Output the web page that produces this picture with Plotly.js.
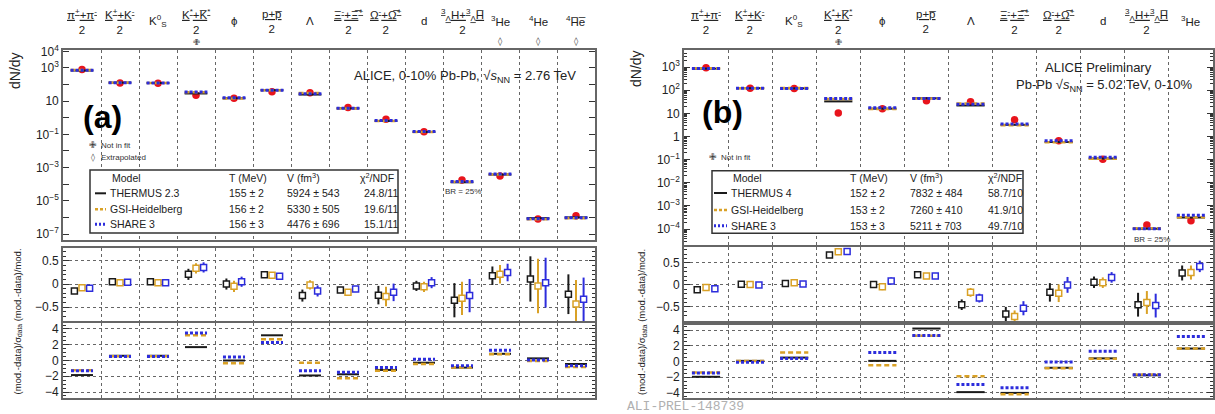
<!DOCTYPE html>
<html><head><meta charset="utf-8">
<script src="https://cdn.plot.ly/plotly-3.0.1.min.js"></script>
<style>html,body{margin:0;padding:0;background:#fff}#chart{width:1215px;height:414px}</style>
</head><body><div id="chart"></div>
<script>
// ---------------- Panel (a): Pb-Pb 2.76 TeV ----------------
const labelsA = [
  "<u>π<sup>+</sup>+π<sup>-</sup></u><br>2",
  "<u>K<sup>+</sup>+K<sup>-</sup></u><br>2",
  "K<sup>0</sup><sub>S</sub>",
  "<u>K<sup>*</sup>+K̅<sup>*</sup></u><br>2",
  "ϕ",
  "<u>p+p̅</u><br>2",
  "Λ",
  "<u>Ξ<sup>-</sup>+Ξ̅<sup>+</sup></u><br>2",
  "<u>Ω<sup>-</sup>+Ω̅<sup>+</sup></u><br>2",
  "d",
  "<u><sup>3</sup><sub>Λ</sub>H+<sup>3</sup><sub>Λ</sub>H̅</u><br>2",
  "<sup>3</sup>He",
  "<sup>4</sup>He",
  "<sup>4</sup>H̅e̅"
];
const notInFitA = [3];
const extrapolatedA = [11, 12, 13];

const dataA    = [800, 125, 118, 23, 15, 37, 32, 4.2, 0.81, 0.145, 1.8e-4, 3.1e-4, 8e-7, 1.25e-6];
const thermA   = [700, 130, 124, 29, 15, 46, 25, 3.7, 0.64, 0.14, 1.3e-4, 3.8e-4, 9e-7, 1.0e-6];
const gsiA     = [740, 128, 122, 34, 14.3, 46, 31, 3.6, 0.64, 0.137, 1.4e-4, 3.9e-4, 7.7e-7, 8.8e-7];
const shareA   = [735, 129, 122, 36, 15.8, 45, 28, 3.8, 0.69, 0.15, 1.45e-4, 4.1e-4, 8.2e-7, 9.4e-7];

const ratioThermA = [-0.15, 0.05, 0.05, 0.21, 0.0, 0.2, -0.25, -0.13, -0.24, -0.04, -0.35, 0.18, 0.11, -0.22];
const errThermA   = [0.04, 0.03, 0.03, 0.12, 0.12, 0.02, 0.13, 0.04, 0.2, 0.11, 0.37, 0.2, 0.49, 0.43];
const ratioGsiA   = [-0.08, 0.03, 0.03, 0.34, -0.05, 0.19, -0.02, -0.18, -0.27, -0.06, -0.31, 0.21, -0.04, -0.43];
const errGsiA     = [0.04, 0.03, 0.03, 0.11, 0.12, 0.02, 0.1, 0.04, 0.21, 0.11, 0.36, 0.2, 0.59, 0.52];
const ratioShareA = [-0.09, 0.04, 0.03, 0.36, 0.05, 0.17, -0.15, -0.11, -0.18, 0.03, -0.25, 0.25, 0.03, -0.33];
const errShareA   = [0.04, 0.03, 0.03, 0.11, 0.11, 0.02, 0.12, 0.04, 0.19, 0.12, 0.36, 0.19, 0.54, 0.47];

const sigThermA = [-1.85, 0.6, 0.6, 1.7, 0.0, 3.2, -1.9, -1.75, -1.2, -0.28, -0.9, 0.85, 0.27, -0.44];
const sigGsiA   = [-1.25, 0.55, 0.55, 3.2, -0.35, 2.7, -0.28, -2.26, -1.3, -0.45, -0.9, 0.8, -0.06, -0.82];
const sigShareA = [-1.3, 0.5, 0.5, 3.5, 0.45, 2.3, -1.3, -1.5, -0.9, 0.15, -0.66, 1.3, 0.06, -0.66];

const legendA = [
  ["THERMUS 2.3", "155 ± 2", "5924 ± 543", "24.8/11"],
  ["GSI-Heidelberg", "156 ± 2", "5330 ± 505", "19.6/11"],
  ["SHARE 3", "156 ± 3", "4476 ± 696", "15.1/11"]
];

// ---------------- Panel (b): Pb-Pb 5.02 TeV ----------------
const labelsB = [
  "<u>π<sup>+</sup>+π<sup>-</sup></u><br>2",
  "<u>K<sup>+</sup>+K<sup>-</sup></u><br>2",
  "K<sup>0</sup><sub>S</sub>",
  "<u>K<sup>*</sup>+K̅<sup>*</sup></u><br>2",
  "ϕ",
  "<u>p+p̅</u><br>2",
  "Λ",
  "<u>Ξ<sup>-</sup>+Ξ̅<sup>+</sup></u><br>2",
  "<u>Ω<sup>-</sup>+Ω̅<sup>+</sup></u><br>2",
  "d",
  "<u><sup>3</sup><sub>Λ</sub>H+<sup>3</sup><sub>Λ</sub>H̅</u><br>2",
  "<sup>3</sup>He"
];
const notInFitB = [3];

const dataB  = [950, 122, 118, 10.5, 16, 35, 32, 5.3, 0.66, 0.105, 1.5e-4, 2.3e-4];
const thermB = [860, 123, 121, 33, 16, 45, 22, 3.2, 0.58, 0.112, 1.03e-4, 3.15e-4];
const gsiB   = [900, 123, 124, 42, 15.4, 44, 27, 3.1, 0.57, 0.11, 1.07e-4, 3.2e-4];
const shareB = [880, 122, 120, 44, 17.6, 44, 24.6, 3.5, 0.66, 0.126, 1.02e-4, 3.95e-4];

const ratioThermB = [-0.11, 0.015, 0.03, 0.68, 0.01, 0.23, -0.45, -0.66, -0.17, 0.06, -0.45, 0.27];
const errThermB   = [0, 0, 0, 0, 0.05, 0, 0.12, 0.16, 0.21, 0.13, 0.27, 0.17];
const ratioGsiB   = [-0.06, 0.01, 0.05, 0.75, -0.04, 0.2, -0.17, -0.72, -0.19, 0.05, -0.4, 0.28];
const errGsiB     = [0, 0, 0, 0, 0.08, 0, 0.1, 0.14, 0.2, 0.12, 0.26, 0.16];
const ratioShareB = [-0.09, 0.0, 0.02, 0.76, 0.09, 0.2, -0.3, -0.53, 0.0, 0.17, -0.47, 0.42];
const errShareB   = [0, 0, 0, 0, 0.08, 0, 0.1, 0.16, 0.18, 0.12, 0.27, 0.13];

const sigThermB = [-1.95, 0.08, 0.5, null, 0.08, 4.2, -3.9, -4.0, -0.8, 0.4, -1.75, 1.65];
const sigGsiB   = [-1.4, 0.05, 1.15, null, -0.47, 3.27, -1.87, -4.17, -0.85, 0.35, -1.65, 1.65];
const sigShareB = [-1.45, -0.1, 0.38, null, 1.15, 3.3, -2.94, -3.36, -0.05, 1.31, -1.7, 3.2];

const legendB = [
  ["THERMUS 4", "152 ± 2", "7832 ± 484", "58.7/10"],
  ["GSI-Heidelberg", "153 ± 2", "7260 ± 410", "41.9/10"],
  ["SHARE 3", "153 ± 3", "5211 ± 703", "49.7/10"]
];

// ---------------- styling ----------------
const W = 1215, H = 414;
const px = x => x / W;
const py = y => 1 - y / H;
const FONT = "Liberation Sans, Arial, sans-serif";
const CK = "#1a1a1a", CO = "#d9a126", CB = "#2c2cdc", CR = "#e8141c";
const modelColors = [CK, CO, CB];
const modelDash = ["solid", "5px,3px", "3px,2px"];
const modelWidth = [2, 2.5, 3];

function segs(vals, half) {
  const x = [], y = [];
  vals.forEach((v, i) => { if (v === null) return; x.push(i - half, i + half, null); y.push(v, v, null); });
  return { x, y };
}
function lineTrace(vals, xa, ya, m, half) {
  const s = segs(vals, half);
  return { type: "scatter", mode: "lines", x: s.x, y: s.y, xaxis: xa, yaxis: ya,
    line: { color: modelColors[m], dash: modelDash[m], width: modelWidth[m] },
    hoverinfo: "skip", showlegend: false };
}
function dataTrace(vals, xa, ya) {
  return { type: "scatter", mode: "markers", x: vals.map((v, i) => i), y: vals, xaxis: xa, yaxis: ya,
    marker: { color: CR, size: 7.5, symbol: "circle" }, showlegend: false };
}
function ratioTrace(vals, errs, off, xa, ya, m) {
  const c = modelColors[m];
  return { type: "scatter", mode: "markers", x: vals.map((v, i) => i + off), y: vals, xaxis: xa, yaxis: ya,
    error_y: { type: "data", array: errs, visible: true, color: c, thickness: 2, width: 0 },
    marker: { symbol: "square", size: 6, color: "#ffffff", line: { width: 1.5, color: c } }, showlegend: false };
}

const traces = [];
// panel a
traces.push(dataTrace(dataA, "x", "y"));
[thermA, gsiA, shareA].forEach((v, m) => traces.push(lineTrace(v, "x", "y", m, 0.3)));
[[ratioThermA, errThermA], [ratioGsiA, errGsiA], [ratioShareA, errShareA]].forEach((p, m) =>
  traces.push(ratioTrace(p[0], p[1], (m - 1) * 0.2, "x2", "y2", m)));
[sigThermA, sigGsiA, sigShareA].forEach((v, m) => traces.push(lineTrace(v, "x3", "y3", m, 0.29)));
// panel b
traces.push(dataTrace(dataB, "x4", "y4"));
[thermB, gsiB, shareB].forEach((v, m) => traces.push(lineTrace(v, "x4", "y4", m, 0.32)));
[[ratioThermB, errThermB], [ratioGsiB, errGsiB], [ratioShareB, errShareB]].forEach((p, m) =>
  traces.push(ratioTrace(p[0], p[1], (m - 1) * 0.2, "x5", "y5", m)));
[sigThermB, sigGsiB, sigShareB].forEach((v, m) => traces.push(lineTrace(v, "x6", "y6", m, 0.32)));

// axes
function xAxis(n, dom, anchor) {
  const b = []; for (let i = 0; i < n - 1; i++) b.push(i + 0.5);
  return { domain: dom, anchor: anchor, range: [-0.5, n - 0.5], tickvals: b, showticklabels: false,
    ticks: "", showgrid: true, griddash: "dot", gridcolor: "#666", gridwidth: 1, zeroline: false,
    showline: true, mirror: true, linecolor: "#666", linewidth: 1.8, fixedrange: true };
}
function baseY(dom, anchor) {
  return { domain: dom, anchor: anchor, ticks: "inside", ticklen: 6, tickcolor: "#333", tickwidth: 1,
    showline: true, mirror: "allticks", linecolor: "#666", linewidth: 1.8, zeroline: false,
    tickfont: { size: 12, color: "#222", family: FONT }, fixedrange: true };
}
const supE = e => e === 1 ? "10" : (e === 0 ? "1" : "10<sup>" + (e < 0 ? "−" + (-e) : e) + "</sup>");

const decA = []; for (let e = -7; e <= 4; e++) decA.push(e);
const yTopA = Object.assign(baseY([py(240), py(50)], "x"), {
  type: "log", range: [-7.36, 4.08], tickvals: decA.map(e => Math.pow(10, e)),
  ticktext: decA.map(e => ([4, 3, 1, -1, -3, -5, -7].includes(e) ? supE(e) : "")), showgrid: false });
const decB = []; for (let e = -4; e <= 3; e++) decB.push(e);
const yTopB = Object.assign(baseY([py(245), py(50)], "x4"), {
  type: "log", range: [-4.69, 3.74], tickvals: decB.map(e => Math.pow(10, e)),
  ticktext: decB.map(supE), showgrid: false,
  minor: { ticks: "inside", ticklen: 3, tickcolor: "#333", dtick: "D1" } });

function yMid(dom, anchor, range) {
  return Object.assign(baseY(dom, anchor), { range: range, tickvals: [-0.5, 0, 0.5], ticktext: ["−0.5", "0", "0.5"],
    showgrid: true, griddash: "dot", gridcolor: "#666", gridwidth: 1,
    minor: { ticks: "inside", ticklen: 3, tickcolor: "#333", dtick: 0.1, showgrid: false } });
}
function yBot(dom, anchor, range) {
  return Object.assign(baseY(dom, anchor), { range: range, tickvals: [-4, -2, 0, 2, 4], ticktext: ["−4", "−2", "0", "2", "4"],
    showgrid: true, griddash: "dot", gridcolor: "#666", gridwidth: 1,
    minor: { ticks: "inside", ticklen: 3, tickcolor: "#333", dtick: 0.5, showgrid: false } });
}

const domXA = [px(63), px(595)], domXB = [px(684), px(1213)];
const layout = {
  width: W, height: H, margin: { l: 0, r: 0, t: 0, b: 0 }, paper_bgcolor: "#fff", plot_bgcolor: "#fff",
  font: { family: FONT, color: "#222" }, showlegend: false,
  xaxis: xAxis(14, domXA, "y"), yaxis: yTopA,
  xaxis2: xAxis(14, domXA, "y2"), yaxis2: yMid([py(321), py(248)], "x2", [-0.8, 0.78]),
  xaxis3: xAxis(14, domXA, "y3"), yaxis3: yBot([py(398), py(323)], "x3", [-4.76, 4.76]),
  xaxis4: xAxis(12, domXB, "y4"), yaxis4: yTopB,
  xaxis5: xAxis(12, domXB, "y5"), yaxis5: yMid([py(321), py(247)], "x5", [-0.82, 0.86]),
  xaxis6: xAxis(12, domXB, "y6"), yaxis6: yBot([py(398), py(325)], "x6", [-4.65, 4.65]),
  annotations: [], shapes: []
};
const A = layout.annotations, S = layout.shapes;
function ann(text, x, y, o) {
  A.push(Object.assign({ text: text, x: x, y: y, xref: "paper", yref: "paper", showarrow: false,
    xanchor: "center", yanchor: "middle", font: { family: FONT, size: 11, color: "#222" } }, o || {}));
}

// category labels above the plots
labelsA.forEach((t, i) => ann(t, i, py(21), { xref: "x", font: { family: FONT, size: 11.5, color: "#222" } }));
labelsB.forEach((t, i) => ann(t, i, py(21), { xref: "x4", font: { family: FONT, size: 11.5, color: "#222" } }));
notInFitA.forEach(i => ann("✙", i, py(42), { xref: "x", font: { family: "DejaVu Sans", size: 8.5, color: "#333" } }));
extrapolatedA.forEach(i => ann("◊", i, py(41), { xref: "x", font: { family: "DejaVu Sans", size: 8.5, color: "#333" } }));
notInFitB.forEach(i => ann("✙", i, py(42), { xref: "x4", font: { family: "DejaVu Sans", size: 8.5, color: "#333" } }));

// axis titles
ann("dN/dy", px(15), py(71), { textangle: -90, font: { family: FONT, size: 14, color: "#222" } });
ann("dN/dy", px(636), py(69), { textangle: -90, font: { family: FONT, size: 14, color: "#222" } });
ann("(mod.-data)/σ<sub>data</sub> (mod.-data)/mod.", px(17.5), py(322), { textangle: -90, font: { family: FONT, size: 9.5, color: "#222" } });
ann("(mod.-data)/σ<sub>data</sub> (mod.-data)/mod.", px(642), py(322), { textangle: -90, font: { family: FONT, size: 9.5, color: "#222" } });

// panel tags
ann("<b>(a)</b>", px(102), py(117), { font: { family: FONT, size: 32, color: "#000" } });
ann("<b>(b)</b>", px(722), py(112), { font: { family: FONT, size: 32, color: "#000" } });

// system texts
ann("ALICE, 0-10% Pb-Pb, √<i>s</i><sub>NN</sub> = 2.76 TeV", px(465), py(76), { font: { family: FONT, size: 13, color: "#222" } });
ann("ALICE Preliminary", px(1098), py(67), { font: { family: FONT, size: 13, color: "#222" } });
ann("Pb-Pb √<i>s</i><sub>NN</sub> = 5.02 TeV, 0-10%", px(1104), py(85), { font: { family: FONT, size: 13, color: "#222" } });
ann("BR = 25%", px(463), py(191), { font: { family: FONT, size: 8, color: "#333" } });
ann("BR = 25%", px(1152), py(239), { font: { family: FONT, size: 8, color: "#333" } });
ann("ALI-PREL-148739", px(685), py(406), { font: { family: "Liberation Mono, monospace", size: 13, color: "#b0b0b0" } });

// not-in-fit / extrapolated keys
ann("✙", px(93), py(145), { font: { family: "DejaVu Sans", size: 9, color: "#333" } });
ann("Not in fit", px(99), py(145), { xanchor: "left", font: { family: FONT, size: 8, color: "#333" } });
ann("◊", px(93), py(158), { font: { family: "DejaVu Sans", size: 8, color: "#333" } });
ann("Extrapolated", px(99), py(158), { xanchor: "left", font: { family: FONT, size: 8, color: "#333" } });
ann("✙", px(713), py(157), { font: { family: "DejaVu Sans", size: 9, color: "#333" } });
ann("Not in fit", px(719), py(157), { xanchor: "left", font: { family: FONT, size: 8, color: "#333" } });

// legend tables
function legendTable(rows, box, rowsY, lineX, cols) {
  S.push({ type: "rect", xref: "paper", yref: "paper", x0: px(box[0]), x1: px(box[1]), y0: py(box[2]), y1: py(box[3]),
    line: { color: "#333", width: 1.5 }, fillcolor: "#fff", layer: "above" });
  const f = { family: FONT, size: 10.5, color: "#222" };
  ann("Model", px(cols[0]), py(rowsY[0]), { xanchor: "left", font: f });
  ann("T (MeV)", px(cols[1]), py(rowsY[0]), { xanchor: "left", font: f });
  ann("V (fm<sup>3</sup>)", px(cols[2]), py(rowsY[0]), { xanchor: "left", font: f });
  ann("χ<sup>2</sup>/NDF", px(cols[3]), py(rowsY[0]), { xanchor: "left", font: f });
  rows.forEach((r, k) => {
    const y = rowsY[k + 1];
    S.push({ type: "line", xref: "paper", yref: "paper", x0: px(lineX[0]), x1: px(lineX[1]), y0: py(y), y1: py(y),
      line: { color: modelColors[k], width: modelWidth[k], dash: k === 0 ? "solid" : (k === 1 ? "3px,2px" : "2px,2px") }, layer: "above" });
    ann(r[0], px(lineX[1] + 2), py(y), { xanchor: "left", font: f });
    ann(r[1], px(cols[1]), py(y), { xanchor: "left", font: f });
    ann(r[2], px(cols[2]), py(y), { xanchor: "left", font: f });
    ann(r[3], px(cols[4]), py(y), { xanchor: "left", font: f });
  });
}
legendTable(legendA, [90, 398, 170, 233], [177.7, 193.3, 209.3, 224.3], [95, 106], [110, 227, 285, 358, 362]);
legendTable(legendB, [712, 1023, 170.7, 233.3], [177.7, 193, 210, 225.7], [714, 727], [731, 848, 908, 986, 986]);

Plotly.newPlot("chart", traces, layout, { displayModeBar: false, staticPlot: true });
</script></body></html>
